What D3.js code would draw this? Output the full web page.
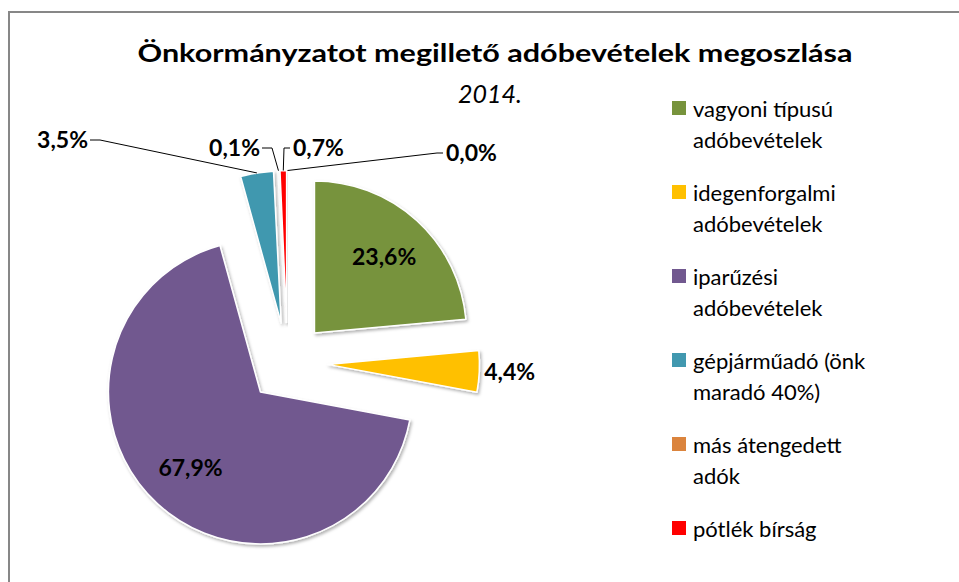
<!DOCTYPE html>
<html>
<head>
<meta charset="utf-8">
<script src="https://cdn.jsdelivr.net/npm/d3@7"></script>
<style>
  body { margin: 0; background: #fff; }
  svg { display: block; font-family: Lato, "Open Sans", sans-serif; }
</style>
</head>
<body>
<script>
// adatok
var categories = ["vagyoni típusú adóbevételek", "idegenforgalmi adóbevételek",
  "iparűzési adóbevételek", "gépjárműadó (önk maradó 40%)", "más átengedett adók",
  "pótlék bírság", "egyéb bevételek"];
var legendLines = [["vagyoni típusú", "adóbevételek"], ["idegenforgalmi", "adóbevételek"],
  ["iparűzési", "adóbevételek"], ["gépjárműadó (önk", "maradó 40%)"], ["más átengedett", "adók"],
  ["pótlék bírság"], ["egyéb bevételek"]];
var values = [23.6, 4.4, 67.9, 3.5, 0.1, 0.7, 0.0];
var colors = ["#77933C", "#FFC000", "#71588F", "#4198AF", "#DB843D", "#FF0000", "#8EB4E3"];

var w = 959, h = 582;
var cx = 287.5, cy = 362.5, r = 152, explode = 40;

// cimkek elhelyezese
var labelMode = ["inside", "outside", "inside", "leader", "leader", "leader", "leader"];
var leaderAnchor = [null, null, null, [90, 140, "end"], [262, 148, "end"], [290, 148, "start"], [443, 153, "start"]];

var svg = d3.select("body").append("svg").attr("width", w).attr("height", h);

var defs = svg.append("defs");
var f = defs.append("filter").attr("id", "sh").attr("x", "-20%").attr("y", "-20%").attr("width", "140%").attr("height", "140%");
f.append("feDropShadow").attr("dx", 1.5).attr("dy", 2).attr("stdDeviation", 1.8)
  .attr("flood-color", "#000").attr("flood-opacity", 0.3);

svg.append("rect").attr("x", 9).attr("y", 12).attr("width", 1000).attr("height", 1000)
  .attr("fill", "none").attr("stroke", "#878787").attr("stroke-width", 2);

svg.append("text").attr("x", 495).attr("y", 62).attr("text-anchor", "middle")
  .attr("font-size", 25).attr("font-weight", "bold").attr("fill", "#000")
  .attr("textLength", 715).attr("lengthAdjust", "spacingAndGlyphs")
  .text("Önkormányzatot megillető adóbevételek megoszlása");
svg.append("text").attr("x", 490).attr("y", 103).attr("text-anchor", "middle")
  .attr("font-size", 25).attr("font-style", "italic").attr("fill", "#000")
  .text("2014.");

var pie = d3.pie().sort(null).value(function(d) { return d; });
var arcs = pie(values);
var arc = d3.arc().innerRadius(0).outerRadius(r);

function offset(d) {
  var a = (d.startAngle + d.endAngle) / 2;
  return [cx + explode * Math.sin(a), cy - explode * Math.cos(a)];
}

var g = svg.append("g");
g.selectAll("path")
  .data(arcs)
  .enter()
  .append("path")
  .attr("transform", function(d) { var o = offset(d); return "translate(" + o[0] + "," + o[1] + ")"; })
  .attr("d", arc)
  .attr("fill", function(d, i) { return colors[i]; })
  .attr("stroke", "#fff")
  .attr("stroke-width", 1.5)
  .attr("stroke-linejoin", "round")
  .attr("filter", "url(#sh)");

function fmt(v) { return v.toFixed(1).replace(".", ",") + "%"; }

var labArc = d3.arc().innerRadius(r * 0.68).outerRadius(r * 0.68);
var fs = 23;

arcs.forEach(function(d, i) {
  var o = offset(d);
  var a = (d.startAngle + d.endAngle) / 2;
  if (labelMode[i] == "inside") {
    var c = labArc.centroid(d);
    svg.append("text").attr("x", o[0] + c[0]).attr("y", o[1] + c[1])
      .attr("text-anchor", "middle").attr("dy", "0.35em")
      .attr("font-size", fs).attr("font-weight", "bold").text(fmt(values[i]));
  } else if (labelMode[i] == "outside") {
    var px = o[0] + (r + 5) * Math.sin(a), py = o[1] - (r + 5) * Math.cos(a);
    svg.append("text").attr("x", px).attr("y", py)
      .attr("text-anchor", "start").attr("dy", "0.35em")
      .attr("font-size", fs).attr("font-weight", "bold").text(fmt(values[i]));
  } else {
    var ex = o[0] + r * Math.sin(a), ey = o[1] - r * Math.cos(a);
    var an = leaderAnchor[i];
    var elbow = an[2] == "end" ? an[0] + 10 : an[0] - 6;
    svg.append("polyline")
      .attr("points", [[ex, ey], [elbow, an[1]], [an[0], an[1]]].join(" "))
      .attr("fill", "none").attr("stroke", "#000").attr("stroke-width", 1);
    svg.append("text").attr("x", an[2] == "end" ? an[0] - 2 : an[0] + 3).attr("y", an[1])
      .attr("text-anchor", an[2]).attr("dy", "0.35em")
      .attr("font-size", fs).attr("font-weight", "bold").text(fmt(values[i]));
  }
});

// jelmagyarazat (a 7. tetel a kepen kivul esik, ezert az elso hatat rajzoljuk)
var leg = svg.append("g");
var item = leg.selectAll("g")
  .data(categories.slice(0, 6))
  .enter()
  .append("g")
  .attr("transform", function(d, i) { return "translate(672," + (101 + i * 84) + ")"; });
item.append("rect").attr("width", 14).attr("height", 14)
  .attr("fill", function(d, i) { return colors[i]; });
item.each(function(d, i) {
  var t = d3.select(this).append("text").attr("x", 21).attr("y", 16)
    .attr("font-size", 22).attr("fill", "#000");
  legendLines[i].forEach(function(line, j) {
    t.append("tspan").attr("x", 21).attr("dy", j == 0 ? 0 : 31).text(line);
  });
});
</script>
</body>
</html>
